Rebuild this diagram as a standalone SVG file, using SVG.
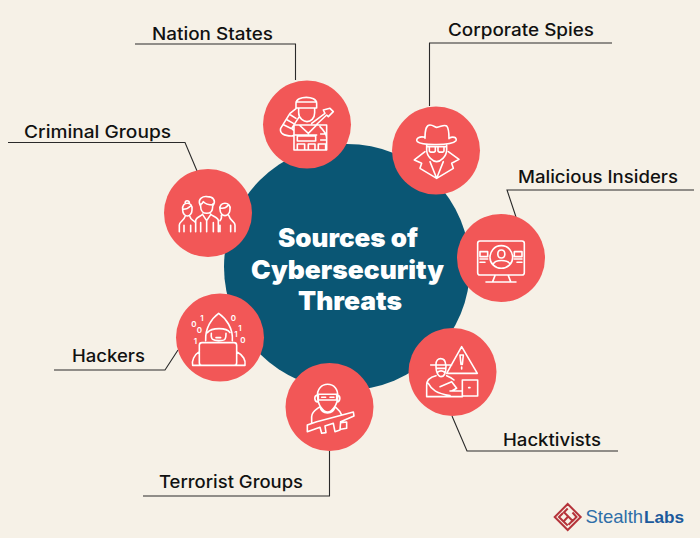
<svg xmlns="http://www.w3.org/2000/svg" width="700" height="538" viewBox="0 0 700 538">
<style>
.n{fill:#f25757}
.i{fill:none;stroke:#fff;stroke-width:4.8;stroke-linecap:round;stroke-linejoin:round}
.l{font:500 17px Inter,"Liberation Sans",sans-serif;fill:#111}
.t{font:900 26px Inter,"Liberation Sans",sans-serif;fill:#fff;text-anchor:middle}
.c{fill:none;stroke:#2a2a2a;stroke-width:1.1}
.m{fill:none;stroke:#b5333a;stroke-width:2}
.b{font-family:"Liberation Sans",Arial,sans-serif}
.z{font:600 8px Inter,"Liberation Sans",sans-serif;fill:#fff;text-anchor:middle}
</style>
<rect width="700" height="538" fill="#f6f1e7"/>
<g id="center"><circle cx="347" cy="267" r="123" fill="#0a5674"/>
<text class="t" x="348" y="247" textLength="140" lengthAdjust="spacingAndGlyphs">Sources of</text>
<text class="t" x="347.500" y="279" textLength="193" lengthAdjust="spacingAndGlyphs">Cybersecurity</text>
<text class="t" x="350" y="310" textLength="104" lengthAdjust="spacingAndGlyphs">Threats</text></g>
<g id="connectors">
<path class="c" d="M135 44H295.500V80"/>
<path class="c" d="M612 43H429.500V106"/>
<path class="c" d="M8 142.500H185L200 178"/>
<path class="c" d="M694 190H507L516 217"/>
<path class="c" d="M54 370H165L178 350"/>
<path class="c" d="M618 451H467L452 416"/>
<path class="c" d="M143 496H329.500V451"/>
</g>
<g id="nation-states"><circle class="n" cx="307" cy="124.500" r="44"/>
<text class="l" x="152" y="40" textLength="121" lengthAdjust="spacingAndGlyphs">Nation States</text>
<g transform="translate(160 70) scale(.3333)"><path class="i" d="M408 114V100C408 76 470 76 470 100V114ZM408 96H470M416 114V128C416 146 432 155 441 155C452 155 464 146 464 128V114M408 116L390 130L362 175C358 190 372 198 395 198L402 196M418 140L395 175L402 182M372 165L392 175M382 150L400 160M392 135L408 145M455 160L495 130L490 120L510 115L520 125L505 140L500 135L468 165M402 165H500V240H402ZM418 165L445 190L470 165M402 195H470M412 198H467V213H412ZM412 222H434V240H412ZM445 222H465V240H445ZM475 222H497V240H475ZM480 170C490 180 500 190 500 205M482 192H498M482 210H498"/></g></g>
<g id="criminal-groups"><circle class="n" cx="208" cy="213" r="44"/>
<text class="l" x="24" y="138" textLength="147" lengthAdjust="spacingAndGlyphs">Criminal Groups</text>
<g transform="translate(160 70) scale(.3333)"><path class="i" d="M122 402V410C122 425 132 430 140 430C150 430 158 425 158 410V402M120 405C112 385 130 378 142 380C160 380 168 392 160 405C150 405 135 402 130 395C128 400 125 403 120 405ZM107 485V452C107 442 125 438 128 432M175 485V452C175 442 155 438 152 432M122 485V458M160 485V458M128 434L140 452L152 434M140 452V485M68 420C66 405 74 400 82 400C90 400 98 405 96 420C96 432 88 438 82 438C76 438 68 432 68 420ZM70 418C80 418 88 412 92 408M76 400C72 390 90 390 88 400M58 485V465C58 455 72 452 75 440M105 456C100 450 92 450 90 440M72 485V466M92 485V466M180 418C178 405 186 400 195 400C204 400 212 405 210 418C210 430 202 437 195 437C188 437 180 430 180 418ZM180 414C190 416 200 412 205 405M225 485V465C225 455 210 452 206 436M184 436C186 444 182 450 180 452M212 485V466M180 485V466"/></g></g>
<g id="corporate-spies"><circle class="n" cx="436" cy="150.500" r="44"/>
<text class="l" x="448" y="36" textLength="146" lengthAdjust="spacingAndGlyphs">Corporate Spies</text>
<g transform="translate(380 100) scale(.3333)"><path class="i" d="M135 115C135 85 140 75 150 75C160 75 165 82 170 82C180 82 192 72 200 78C207 85 207 105 207 116M135 112C120 108 105 115 112 125C125 137 215 137 228 122C232 112 218 108 207 115M140 136V150C140 170 160 185 170 185C180 185 200 170 200 150V136M142 140H198M148 140H166V152C166 158 148 158 148 152ZM174 140H192V152C192 158 174 158 174 152ZM135 155L103 180L125 190L120 205L170 235L220 205L215 190L237 178L205 155M150 185L170 235L190 185"/></g></g>
<g id="malicious-insiders"><circle class="n" cx="501" cy="258" r="44"/>
<text class="l" x="518" y="183" textLength="160" lengthAdjust="spacingAndGlyphs">Malicious Insiders</text>
<g transform="translate(380 100) scale(.3333)"><path class="i" d="M300 423H426Q433 423 433 430V518Q433 525 426 525H300Q293 525 293 518V430Q293 423 300 423ZM364 437C342 437 330 455 330 473C330 490 345 505 364 505C383 505 398 490 398 473C398 455 386 437 364 437ZM364 450C350 450 350 474 364 474C378 474 378 450 364 450ZM340 492C345 478 383 478 390 492M300 455H323V470H300ZM403 455H426V470H403ZM300 477H323M300 487H315M403 477H426M411 487H426M345 527L338 545M385 527L392 545M318 546H408"/></g></g>
<g id="hackers"><circle class="n" cx="220" cy="337.500" r="44"/>
<text class="l" x="72" y="362" textLength="73" lengthAdjust="spacingAndGlyphs">Hackers</text>
<g transform="translate(170 290) scale(.3333)"><path class="i" d="M107 152C105 115 125 85 146 70C168 85 190 115 187 152M112 128C125 112 170 112 180 128M124 130C122 150 130 152 146 152C165 152 168 150 168 130M138 143H152M96 158H192Q200 158 200 166V218Q200 226 192 226H96Q88 226 88 218V166Q88 158 96 158ZM88 185C72 195 65 212 68 226H225C228 212 220 195 200 185"/></g>
<text class="z" x="194" y="327">0</text><text class="z" x="202" y="321">1</text><text class="z" x="199.500" y="333">0</text><text class="z" x="195.500" y="344">1</text><text class="z" x="233.500" y="321">0</text><text class="z" x="240" y="331">1</text><text class="z" x="236" y="337">1</text><text class="z" x="243" y="343">0</text></g>
<g id="terrorist-groups"><circle class="n" cx="329.500" cy="407" r="44"/>
<text class="l" x="159" y="488" textLength="144" lengthAdjust="spacingAndGlyphs">Terrorist Groups</text>
<g transform="translate(170 290) scale(.3333)"><path class="i" d="M443 320C440 298 455 283 473 283C492 283 505 298 503 320C503 345 485 366 473 366C460 366 443 345 443 320ZM445 313H500V330H445ZM455 322H467M480 322H492M441 315C432 318 432 334 443 336M503 315C512 318 512 334 501 336M425 398V380C425 365 440 358 450 350M515 375C510 360 500 355 495 350M450 350C455 375 490 375 495 350M412 405V425L450 412L455 430L468 428L465 408L490 400L495 425L510 420L512 395L552 378L550 366L480 385L440 395ZM512 398L530 396V415L512 418"/></g></g>
<g id="hacktivists"><circle class="n" cx="452.500" cy="372" r="44"/>
<text class="l" x="503" y="446" textLength="98" lengthAdjust="spacingAndGlyphs">Hacktivists</text>
<g transform="translate(400 325) scale(.3333)"><path class="i" d="M185 65L232 145H140ZM180 90H190L187 118H183ZM185 126V132M108 118C108 95 135 95 137 118M92 120H155M108 122C108 150 120 155 123 155C135 155 138 140 138 122M110 130H136M113 142C118 136 128 136 134 142M80 215V180C80 160 95 155 108 152M140 152C148 155 155 158 162 165M80 215H187M187 165H233V213H187ZM206 188H210M85 175C95 195 110 205 150 212M120 185L155 170L170 190L155 198M150 198H187"/></g></g>
<g id="logo">
<path class="m" d="M567.700 504L580.700 517L567.700 530L554.700 517Z"/>
<path class="m" d="M567.700 508.500L564 512.200L572.500 520.700L568.500 524.700M563 513L559 517L563.500 521.500M572.500 512.500L576.500 517L572 521.500M567.700 517L563.500 521.500L567.700 525.500"/>
<text class="b" x="585.500" y="523" font-size="18.500" fill="#2f6ea8">Stealth</text>
<text class="b" x="644" y="523" font-size="17.200" font-weight="700" fill="#1c5a9c">Labs</text></g>
</svg>
